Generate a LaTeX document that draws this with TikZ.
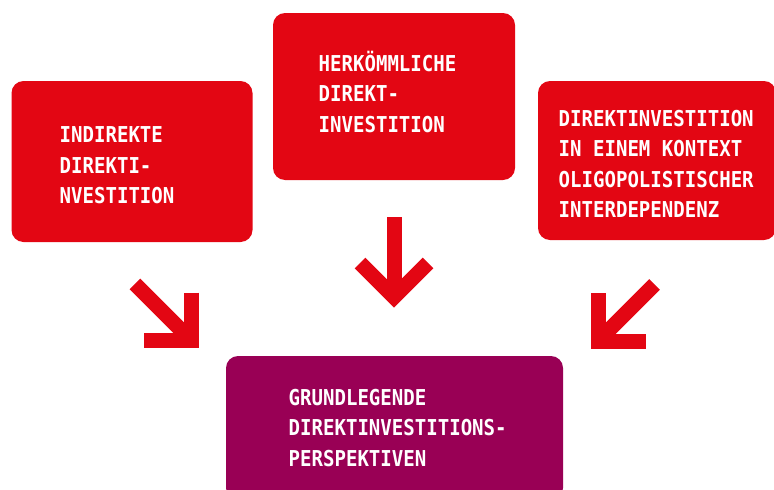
\documentclass[tikz,border=0pt]{standalone}
\usepackage{fontspec}
\newfontfamily\boxfont[FakeStretch=0.87]{DejaVu Sans Mono Bold}
\definecolor{boxred}{RGB}{227,6,19}
\definecolor{boxpurple}{RGB}{153,0,85}
\begin{document}
\begin{tikzpicture}[x=1pt,y=-1pt,
  box/.style={fill=#1, rounded corners=12pt, inner sep=0pt, draw=none},
  lbl/.style={anchor=base west, inner sep=0pt, text=white,
    font=\boxfont\fontsize{21.9}{30.5}\selectfont},
  bigarrow/.style={draw=boxred, line width=15pt, line join=miter, line cap=butt}]
\useasboundingbox (0,0) rectangle (774,490);
% boxes
\node[box=boxred, minimum width=241pt, minimum height=161pt] (left) at (132,161.5) {};
\node[box=boxred, minimum width=242pt, minimum height=167pt] (top) at (394,96.5) {};
\node[box=boxred, minimum width=238pt, minimum height=159pt] (right) at (657,160.5) {};
\node[box=boxpurple, minimum width=337pt, minimum height=144pt] (bottom) at (394.5,428) {};
% texts
\node[lbl] (tleft) at (59.5,142.7) {\begin{tabular}[t]{@{}l@{}}INDIREKTE\\DIREKTI-\\NVESTITION\end{tabular}};
\node[lbl] (ttop) at (318.5,71) {\begin{tabular}[t]{@{}l@{}}HERKÖMMLICHE\\DIREKT-\\INVESTITION\end{tabular}};
\node[lbl] (tright) at (558.5,126) {\begin{tabular}[t]{@{}l@{}}DIREKTINVESTITION\\IN EINEM KONTEXT\\OLIGOPOLISTISCHER\\INTERDEPENDENZ\end{tabular}};
\node[lbl] (tbottom) at (288.5,405) {\begin{tabular}[t]{@{}l@{}}GRUNDLEGENDE\\DIREKTINVESTITIONS-\\PERSPEKTIVEN\end{tabular}};
% arrow points
\coordinate (cS) at (394,217);
\coordinate (cV) at (394,297);
\coordinate (cW1) at (360,263);
\coordinate (cW2) at (428,263);
\coordinate (lS) at (134.9,283.9);
\coordinate (lV) at (191.5,340.5);
\coordinate (lW1) at (191.5,292.5);
\coordinate (lW2) at (143.5,340.5);
\coordinate (rS) at (654.6,284.4);
\coordinate (rV) at (598,341);
\coordinate (rW1) at (598,293);
\coordinate (rW2) at (646,341);
% arrows
\draw[bigarrow] (cS) -- (cV);
\draw[bigarrow] (cW1) -- (cV) -- (cW2);
\draw[bigarrow] (lS) -- (lV);
\draw[bigarrow] (lW1) -- (lV) -- (lW2);
\draw[bigarrow] (rS) -- (rV);
\draw[bigarrow] (rW1) -- (rV) -- (rW2);
\end{tikzpicture}
\end{document}
